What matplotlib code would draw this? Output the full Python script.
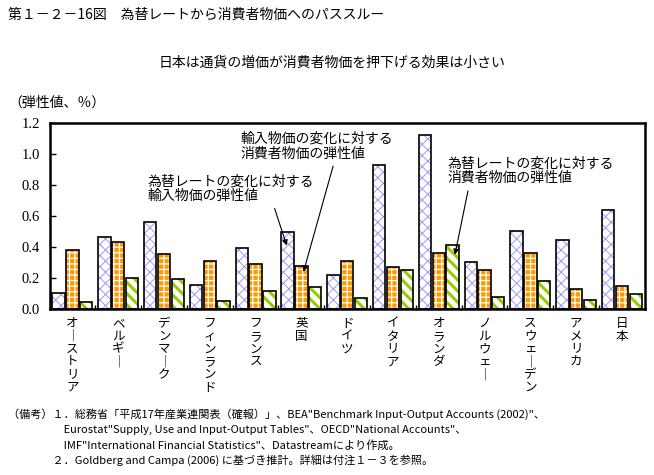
import numpy as np
import matplotlib
matplotlib.use("Agg")
import matplotlib.pyplot as plt

plt.rcParams['font.family'] = ['Noto Sans CJK JP', 'DejaVu Sans']

# == data
countries = ["オーストリア", "ベルギー", "デンマーク", "フィンランド", "フランス", "英国",
             "ドイツ", "イタリア", "オランダ", "ノルウェー", "スウェーデン", "アメリカ", "日本"]
fxToImport = [0.10, 0.465, 0.56, 0.15, 0.39, 0.495, 0.22, 0.93, 1.12, 0.30, 0.50, 0.446, 0.64]
importToCpi = [0.38, 0.43, 0.35, 0.31, 0.29, 0.277, 0.31, 0.27, 0.36, 0.25, 0.36, 0.128, 0.147]
fxToCpi = [0.04, 0.20, 0.19, 0.05, 0.115, 0.14, 0.07, 0.25, 0.41, 0.076, 0.18, 0.056, 0.097]
yTicks = [0.0, 0.2, 0.4, 0.6, 0.8, 1.0, 1.2]


def vertical(s):
    # stack characters, long vowel mark turned upright like in vertical writing
    return "\n".join("｜" if c == "ー" else c for c in s)


fig = plt.figure(figsize=(6.54, 4.75), dpi=100)
ax = fig.add_axes([0.0757, 0.3505, 0.9103, 0.3905])

x = np.arange(len(countries))
w = 0.27
step = 0.30
# values, face, hatch colour, hatch, hatch line width
series = [(fxToImport, "white", "#9999FF", "xxx", 0.7),
          (importToCpi, "#FF9900", "white", "+++", 0.9),
          (fxToCpi, "white", "#99CC00", "\\\\\\", 2.2)]
for k, (vals, fc, hc, hatch, hlw) in enumerate(series):
    pos = x + (k - 1) * step
    with plt.rc_context({'hatch.linewidth': hlw}):
        ax.bar(pos, vals, w, color=fc, edgecolor=hc, hatch=hatch, linewidth=0)
    ax.bar(pos, vals, w, fill=False, edgecolor="black", linewidth=1.2)

ax.set_xlim(-0.5, len(countries) - 0.5)
ax.set_ylim(0, 1.2)
ax.set_yticks(yTicks)
ax.set_yticklabels([f"{t:.1f}" for t in yTicks], family="Liberation Serif", size=10.5)
ax.tick_params(axis="y", direction="in", length=4, width=1, pad=7)
ax.set_xticks(x)
ax.set_xticklabels([vertical(c) for c in countries], fontsize=9, linespacing=0.98, va="top")
ax.tick_params(axis="x", length=0, pad=6)
ax.set_xticks(np.arange(0.5, len(countries) - 0.5, 1), minor=True)
ax.tick_params(axis="x", which="minor", direction="in", length=3, width=1)
for s in ax.spines.values():
    s.set_linewidth(1.8)

arrow = dict(arrowstyle="-|>", color="black", lw=0.8, mutation_scale=8)
ax.annotate("為替レートの変化に対する\n輸入物価の弾性値", xy=(4.70, 0.39), xytext=(1.65, 0.87),
            ha="left", va="top", fontsize=10, linespacing=1.1,
            arrowprops=dict(arrow, relpos=(0.75, 0.0)))
ax.annotate("輸入物価の変化に対する\n消費者物価の弾性値", xy=(5.03, 0.22), xytext=(3.66, 1.145),
            ha="left", va="top", fontsize=10, linespacing=1.1,
            arrowprops=dict(arrow, relpos=(0.62, 0.0)))
ax.annotate("為替レートの変化に対する\n消費者物価の弾性値", xy=(8.34, 0.33), xytext=(8.19, 0.985),
            ha="left", va="top", fontsize=10, linespacing=1.1,
            arrowprops=dict(arrow, relpos=(0.13, 0.0)))

fig.text(8 / 654, 1 - 15 / 475, "第１－２－16図　為替レートから消費者物価へのパススルー",
         fontsize=10, va="center", ha="left")
fig.text(332 / 654, 1 - 63 / 475, "日本は通貨の増価が消費者物価を押下げる効果は小さい",
         fontsize=10, va="center", ha="center")
fig.text(8 / 654, 1 - 103 / 475, "（弾性値、％）", fontsize=10, va="center", ha="left")

notes = ["（備考）１．総務省「平成17年産業連関表（確報）」、BEA\"Benchmark Input-Output Accounts (2002)\"、",
         "　　　　　Eurostat\"Supply, Use and Input-Output Tables\"、OECD\"National Accounts\"、",
         "　　　　　IMF\"International Financial Statistics\"、Datastreamにより作成。",
         "　　　　２．Goldberg and Campa (2006) に基づき推計。詳細は付注１－３を参照。"]
for i, line in enumerate(notes):
    fig.text(8 / 654, 1 - (414 + 15.5 * i) / 475, line, fontsize=8, va="center", ha="left")

fig.savefig("out.png", dpi=100)
